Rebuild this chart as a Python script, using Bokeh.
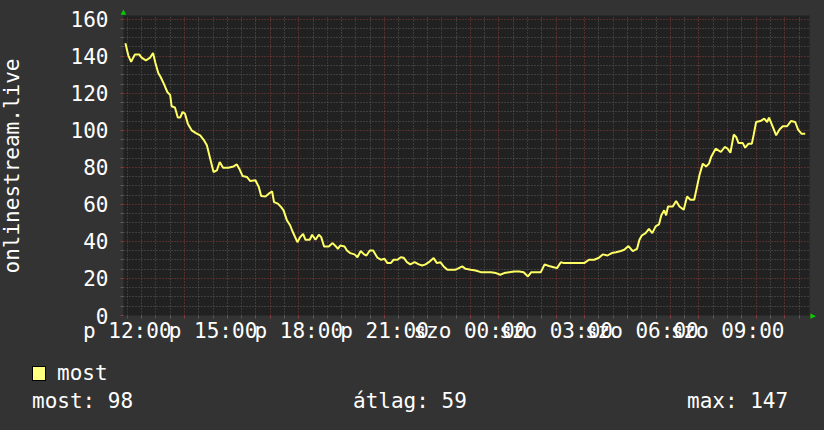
from bokeh.plotting import figure
from bokeh.layouts import column, row
from bokeh.models import FixedTicker, Range1d, LinearAxis, Div
from bokeh.embed import file_html
from bokeh.resources import INLINE

# minutes since Friday 12:00
minutes = [-4, 2, 8, 16, 25, 30, 39, 48, 54, 59,
           65, 70, 77, 84, 90, 93, 100, 106, 111, 116,
           121, 127, 135, 144, 153, 160, 167, 174, 181, 188,
           194, 201, 212, 223, 230, 235, 242, 251, 258, 269,
           276, 281, 290, 297, 304, 308, 316, 323, 328, 335,
           342, 346, 357, 362, 369, 374, 383, 388, 395, 402,
           407, 413, 423, 431, 438, 442, 447, 456, 461, 468,
           477, 483, 490, 497, 502, 509, 516, 525, 533, 540,
           546, 553, 559, 567, 574, 580, 587, 594, 603, 612,
           619, 626, 633, 643, 650, 657, 664, 672, 681, 688,
           693, 703, 710, 721, 731, 742, 752, 763, 774, 783,
           791, 802, 812, 823, 832, 841, 848, 857, 868, 876,
           885, 895, 902, 910, 917, 931, 946, 959, 969, 980,
           990, 998, 1008, 1017, 1026, 1036, 1043, 1052, 1061, 1070,
           1075, 1080, 1088, 1095, 1102, 1109, 1116, 1121, 1127, 1131,
           1135, 1145, 1152, 1159, 1168, 1175, 1182, 1190, 1196, 1201,
           1208, 1215, 1221, 1226, 1235, 1246, 1254, 1260, 1266, 1273,
           1278, 1283, 1292, 1297, 1304, 1311, 1315, 1320, 1329, 1337,
           1343, 1347, 1355, 1362, 1369, 1376, 1385, 1393, 1402, 1408,
           1415, 1423]

most = [147, 140.5, 137, 141, 141, 139.3, 137.8, 139.3, 141.8, 136.4,
        131, 128.8, 124.9, 120.7, 119, 113, 112.3, 106.9, 106.9, 109.9,
        109, 103.6, 100, 98.5, 97.3, 95, 91.9, 84.7, 77.5, 78.4,
        82.9, 79.8, 79.8, 80.5, 81.6, 79.3, 75.3, 74.8, 72.6, 73,
        69.4, 64.5, 64.3, 65.8, 67, 61.2, 60.4, 58.5, 56.8, 51.4,
        48.6, 45.9, 39.6, 42, 44.1, 40.9, 40.9, 43.6, 40.9, 43.6,
        42.3, 37.3, 37.3, 39.1, 37.3, 36, 37.8, 37.3, 35.1, 33.7,
        33, 31.5, 34.8, 33, 32.4, 35.1, 35.1, 31.2, 30.1, 30.6,
        28.3, 28.3, 30.1, 30.1, 31.5, 31.2, 28.8, 27.6, 28.8, 27.6,
        27, 27.6, 28.8, 31, 28.3, 28.8, 26.5, 24.7, 24.7, 24.7,
        25.2, 26.5, 25.2, 24.7, 24.3, 23.4, 23.4, 23.4, 22.9, 22,
        22.9, 23.4, 23.8, 23.8, 23.4, 21.1, 23.4, 23.4, 23.4, 27.6,
        26.7, 26.1, 25.6, 28.8, 28.3, 28.3, 28.3, 28.3, 30.1, 30.1,
        31.2, 33, 32.4, 33.7, 34.2, 34.8, 35.5, 37.5, 34.8, 36,
        40.9, 43.2, 44.5, 46.8, 44.5, 48.1, 49.2, 54.1, 56.8, 54.1,
        58.9, 58.9, 61.8, 58.9, 57.1, 64.3, 62.5, 62.5, 69.7, 75.7,
        82, 80.5, 82, 85.9, 90.1, 88.3, 91, 90.1, 87.9, 97.7,
        96.4, 93.1, 93.1, 90.6, 92.8, 92.8, 97.8, 104.5, 105, 106.3,
        104.5, 106.9, 101.8, 97.3, 100.4, 102.2, 102.2, 105, 104.5, 100.4,
        98.2, 98.2]

label_minutes = [0, 180, 360, 540, 720, 900, 1080, 1260]
label_texts = ["p 12:00", "p 15:00", "p 18:00", "p 21:00",
               "szo 00:00", "szo 03:00", "szo 06:00", "szo 09:00"]
y_ticks = [0, 20, 40, 60, 80, 100, 120, 140, 160]
series_name = "most"
y_title = "onlinestream.live"
stats = ["most: 98", "átlag: 59", "max: 147"]

X_START, X_END = -8, 1432
Y_START, Y_END = 0, 162

BG = "#333333"
PLOT_BG = "#212121"
MAJOR = "#8a3c3c"
MINOR = "#5c5c5c"
LINE = "#ffff66"
SWATCH = "#ffff80"
ARROW = "#00cc00"
FONT = "DejaVu Sans Mono"

# layout (pixels)
TITLE_W = 24
FIG_H = 347
LEGEND_H = 430 - FIG_H

p = figure(frame_width=686, frame_height=300,
           output_backend="svg", toolbar_location=None,
           x_range=Range1d(X_START, X_END), y_range=Range1d(Y_START, Y_END),
           background_fill_color=PLOT_BG, border_fill_color=BG,
           outline_line_color=None,
           min_border_left=123 - TITLE_W, min_border_right=15,
           min_border_top=15, min_border_bottom=FIG_H - 315)

hour_ticks = list(range(0, 1440, 60))
half_ticks = list(range(30, 1440, 60))
overrides = {m: "" for m in hour_ticks}
for m, t in zip(label_minutes, label_texts):
    overrides[m] = t

xa = p.xaxis[0]
xa.ticker = FixedTicker(ticks=hour_ticks, minor_ticks=half_ticks)
xa.major_label_overrides = overrides
xa.major_label_text_font = FONT
xa.major_label_text_font_size = "21px"
xa.major_label_text_color = "white"
xa.major_label_standoff = 0
xa.axis_line_color = None
xa.major_tick_line_color = MAJOR
xa.major_tick_out = 3
xa.major_tick_in = 0
xa.minor_tick_line_color = MINOR
xa.minor_tick_out = 3
xa.minor_tick_in = 0

ya = p.yaxis[0]
ya.ticker = FixedTicker(ticks=y_ticks,
                        minor_ticks=[v for v in range(5, 161, 5) if v % 20])
ya.major_label_text_font = FONT
ya.major_label_text_font_size = "21px"
ya.major_label_text_color = "white"
ya.major_tick_out = 3
ya.major_tick_in = 0
ya.major_tick_line_color = MAJOR
ya.minor_tick_out = 3
ya.minor_tick_in = 0
ya.minor_tick_line_color = MINOR
ya.major_label_standoff = 12
ya.axis_line_color = None

# small green arrow heads at the ends of the axes
top_arrow = LinearAxis(ticker=FixedTicker(ticks=[X_START]),
                       major_label_overrides={X_START: "\u25b2"},
                       major_label_text_color=ARROW,
                       major_label_text_font="DejaVu Sans",
                       major_label_text_font_size="7px",
                       major_label_standoff=0, major_tick_out=0,
                       major_tick_in=0, axis_line_color=None,
                       minor_tick_out=0, minor_tick_in=0)
p.add_layout(top_arrow, "above")
right_arrow = LinearAxis(ticker=FixedTicker(ticks=[Y_START]),
                         major_label_overrides={Y_START: "\u25b6"},
                         major_label_text_color=ARROW,
                         major_label_text_font="DejaVu Sans",
                         major_label_text_font_size="7px",
                         major_label_standoff=1, major_tick_out=0,
                         major_tick_in=0, axis_line_color=None,
                         minor_tick_out=0, minor_tick_in=0)
p.add_layout(right_arrow, "right")

for g in (p.xgrid[0], p.ygrid[0]):
    g.grid_line_color = MAJOR
    g.grid_line_dash = "1 2"
    g.grid_line_width = 1
    g.minor_grid_line_color = MINOR
    g.minor_grid_line_dash = "1 2"
    g.minor_grid_line_width = 1

p.line(minutes, most, line_color=LINE, line_width=2)

# vertical y-axis title, left of the chart
title_svg = (
    f'<svg width="{TITLE_W}" height="{FIG_H}" style="display:block">'
    f'<text transform="rotate(-90)" x="-166" y="18.5" text-anchor="middle" '
    f'style="font-family:\'DejaVu Sans Mono\',monospace;font-size:21px;'
    f'fill:#ffffff;">{y_title}</text></svg>')
title_div = Div(text=title_svg, width=TITLE_W, height=FIG_H, margin=0,
                styles={"background-color": BG})

# legend and statistics strip below the chart
txt_style = ("position:absolute;white-space:pre;line-height:24px;"
             "font-family:'DejaVu Sans Mono',monospace;font-size:21px;color:#ffffff;")
stat_left = [32, 353, 687]
parts = [
    f'<div style="position:absolute;left:32px;top:19px;width:14px;height:15px;'
    f'box-sizing:border-box;border:1px solid #000;background:{SWATCH};"></div>',
    f'<div style="{txt_style}left:57px;top:14px;">{series_name}</div>',
]
for t, lx in zip(stats, stat_left):
    parts.append(f'<div style="{txt_style}left:{lx}px;top:42px;">{t}</div>')
legend_div = Div(text=f'<div style="position:relative;width:824px;height:{LEGEND_H}px;">'
                 + "".join(parts) + "</div>",
                 width=824, height=LEGEND_H, margin=0,
                 styles={"background-color": BG})

layout = column(row(title_div, p, spacing=0), legend_div, spacing=0)
html = file_html(layout, INLINE)
html = html.replace("</head>", "<style>body{background:#333333;}</style></head>", 1)
open("out.html", "w").write(html)
